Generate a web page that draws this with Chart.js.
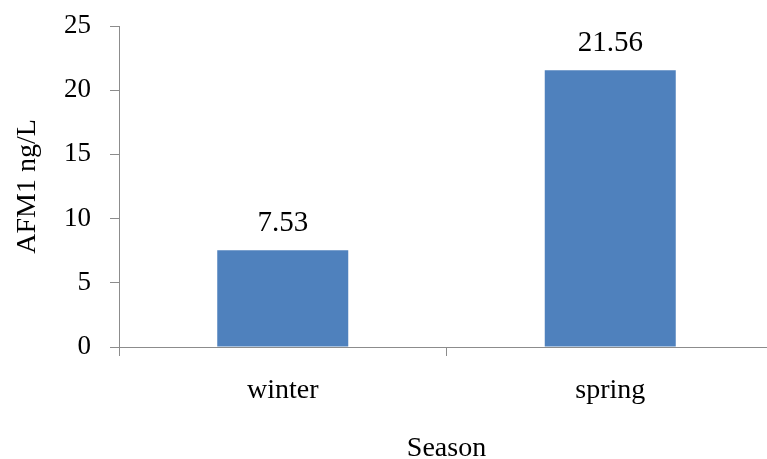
<!DOCTYPE html>
<html>
<head>
<meta charset="utf-8">
<script src="https://cdn.jsdelivr.net/npm/chart.js@4"></script>
<style>
  html, body { margin: 0; padding: 0; background: #fff; overflow: hidden; }
  #wrap { width: 780px; height: 459px; }
</style>
</head>
<body>
<div id="wrap"><canvas id="seasonChart" width="780" height="459"></canvas></div>
<script>
// chart data
const seasons = ['winter', 'spring'];
const afm1Values = [7.53, 21.56];
const yTicks = [0, 5, 10, 15, 20, 25];

const serif = '"Liberation Serif", "Times New Roman", serif';
const axisGray = '#8c8c8c';

// write each value above its bar
const valueLabels = {
  id: 'valueLabels',
  afterDatasetsDraw(chart) {
    const ctx = chart.ctx;
    const meta = chart.getDatasetMeta(0);
    ctx.save();
    ctx.font = '29px ' + serif;
    ctx.fillStyle = '#000';
    ctx.textAlign = 'center';
    ctx.textBaseline = 'alphabetic';
    meta.data.forEach((bar, i) => {
      ctx.fillText(afm1Values[i].toFixed(2), bar.x, bar.y - 19);
    });
    ctx.restore();
  }
};

new Chart(document.getElementById('seasonChart'), {
  type: 'bar',
  data: {
    labels: seasons,
    datasets: [{
      label: 'AFM1 ng/L',
      data: afm1Values,
      backgroundColor: '#4f81bd',
      categoryPercentage: 1,
      barPercentage: 0.4
    }]
  },
  options: {
    responsive: false,
    animation: false,
    layout: { padding: { top: 26, right: 6, bottom: 0, left: 0 } },
    plugins: { legend: { display: false }, tooltip: { enabled: false } },
    scales: {
      x: {
        offset: true,
        afterFit: scale => { scale.height = 112; },
        grid: { offset: true, drawOnChartArea: false, tickLength: 9, color: axisGray },
        border: { color: axisGray, width: 1 },
        ticks: { color: '#000', font: { family: serif, size: 28 }, padding: 18 },
        title: {
          display: true, text: 'Season', color: '#000',
          font: { family: serif, size: 28, lineHeight: 1 },
          padding: { top: 0, bottom: -4 }
        }
      },
      y: {
        min: 0, max: 25,
        afterFit: scale => {
          scale.width = 119;
          scale.paddingTop = 0;
          scale.paddingBottom = 0;
        },
        afterBuildTicks: scale => { scale.ticks = yTicks.map(v => ({ value: v })); },
        grid: { drawOnChartArea: false, tickLength: 9, color: axisGray },
        border: { color: axisGray, width: 1 },
        ticks: { color: '#000', font: { family: serif, size: 27 }, padding: 19 },
        title: {
          display: true, text: 'AFM1 ng/L', color: '#000',
          font: { family: serif, size: 28, lineHeight: 1 },
          padding: { top: 14, bottom: 0 }
        }
      }
    }
  },
  plugins: [valueLabels]
});
</script>
</body>
</html>
